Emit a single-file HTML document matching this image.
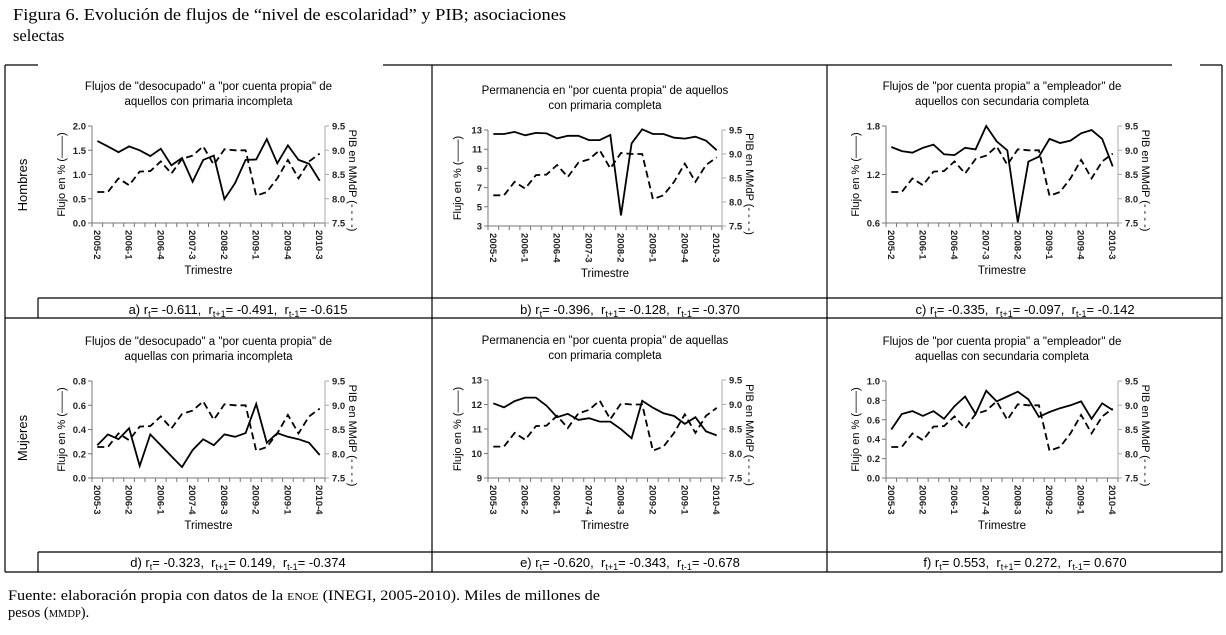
<!DOCTYPE html>
<html><head><meta charset="utf-8"><style>
html,body{margin:0;padding:0;background:#fff;width:1226px;height:635px;overflow:hidden}
svg{display:block}
text{font-family:"Liberation Sans","DejaVu Sans",sans-serif}
.serif{font-family:"Liberation Serif",serif}
</style></head><body>
<svg id="fig" width="1226" height="635" viewBox="0 0 1226 635" xmlns="http://www.w3.org/2000/svg">
<text class="serif" x="13" y="20" font-size="16.5" textLength="553" lengthAdjust="spacingAndGlyphs">Figura 6. Evolución de flujos de “nivel de escolaridad” y PIB; asociaciones</text>
<text class="serif" x="13" y="41" font-size="16.5">selectas</text>
<g stroke="#000" stroke-width="1.2" fill="none">
<path d="M5 65H38M383 65H1172M1200 65H1222"/>
<path d="M5 65V572M1222 65V572M432 65V572M827 65V572"/>
<path d="M38 298H1222M38 552H1222M5 318H1222M5 572H1222M38 298V318M38 552V572"/>
</g>
<text transform="translate(27,185) rotate(-90)" text-anchor="middle" font-size="13">Hombres</text>
<text transform="translate(27,438) rotate(-90)" text-anchor="middle" font-size="13">Mujeres</text>
<text class="serif" x="8" y="600" font-size="14.5" textLength="592" lengthAdjust="spacingAndGlyphs">Fuente: elaboración propia con datos de la <tspan font-size="10.5">ENOE</tspan> (INEGI, 2005-2010). Miles de millones de</text>
<text class="serif" x="8" y="617" font-size="14.5">pesos (<tspan font-size="10.5">MMDP</tspan>).</text>
</svg>
<script>
const pibValues=[8.14,8.14,8.42,8.28,8.56,8.57,8.77,8.52,8.82,8.89,9.08,8.70,9.02,9.00,9.00,8.06,8.14,8.42,8.80,8.42,8.77,8.93];
const flowA=[1.69,1.58,1.46,1.58,1.50,1.38,1.53,1.19,1.34,0.85,1.30,1.39,0.49,0.82,1.30,1.31,1.73,1.23,1.60,1.30,1.22,0.87];
const flowB=[12.58,12.58,12.8,12.45,12.7,12.65,12.13,12.4,12.4,11.95,11.95,12.48,4.1,11.6,13.07,12.58,12.58,12.2,12.1,12.3,11.9,10.9];
const flowC=[1.54,1.49,1.47,1.53,1.57,1.45,1.44,1.53,1.51,1.80,1.61,1.50,0.61,1.36,1.42,1.64,1.59,1.62,1.71,1.75,1.64,1.30];
const flowD=[0.27,0.36,0.32,0.41,0.10,0.36,0.27,0.18,0.09,0.23,0.32,0.27,0.36,0.34,0.37,0.61,0.29,0.37,0.34,0.32,0.29,0.19];
const flowE=[12.05,11.88,12.14,12.28,12.28,11.95,11.48,11.62,11.37,11.44,11.3,11.3,10.99,10.62,12.15,11.87,11.64,11.53,11.21,11.48,10.9,10.74];
const flowF=[0.50,0.66,0.69,0.64,0.69,0.61,0.74,0.84,0.66,0.90,0.79,0.84,0.89,0.81,0.63,0.68,0.72,0.75,0.79,0.61,0.77,0.70];
const labelsTop=["2005-2","2006-1","2006-4","2007-3","2008-2","2009-1","2009-4","2010-3"];
const labelsBottom=["2005-3","2006-2","2006-1","2007-4","2008-3","2009-2","2009-1","2010-4"];
const ticksA=[0.0,0.5,1.0,1.5,2.0];
const ticksB=[3,5,7,9,11,13];
const ticksC=[0.6,1.2,1.8];
const ticksD=[0.0,0.2,0.4,0.6,0.8];
const ticksE=[9,10,11,12,13];
const ticksF=[0.0,0.2,0.4,0.6,0.8,1.0];
const ticksPib=[7.5,8.0,8.5,9.0,9.5];

const NS="http://www.w3.org/2000/svg";
const svg=document.getElementById('fig');
function mk(tag,attrs,parent,txt){const e=document.createElementNS(NS,tag);for(const k in attrs)e.setAttribute(k,attrs[k]);if(txt!==undefined)e.textContent=txt;(parent||svg).appendChild(e);return e;}

const panels=[
 {id:'a',L:92,R:325,T:126,B:223,t1:'Flujos de "desocupado" a "por cuenta propia" de',t2:'aquellos con primaria incompleta',flow:flowA,ticks:ticksA,dec:1,labels:labelsTop,cap:['a)','-0.611','-0.491','-0.615'],cx:238,cy:314},
 {id:'b',L:488,R:722,T:130,B:226,t1:'Permanencia en "por cuenta propia" de aquellos',t2:'con primaria completa',flow:flowB,ticks:ticksB,dec:0,labels:labelsTop,cap:['b)','-0.396','-0.128','-0.370'],cx:630,cy:314},
 {id:'c',L:886,R:1118,T:126,B:223,t1:'Flujos de "por cuenta propia" a "empleador" de',t2:'aquellos con secundaria completa',flow:flowC,ticks:ticksC,dec:1,labels:labelsTop,cap:['c)','-0.335','-0.097','-0.142'],cx:1025,cy:314},
 {id:'d',L:92,R:325,T:381,B:478,t1:'Flujos de "desocupado" a "por cuenta propia" de',t2:'aquellas con primaria incompleta',flow:flowD,ticks:ticksD,dec:1,labels:labelsBottom,cap:['d)','-0.323','0.149','-0.374'],cx:238,cy:567},
 {id:'e',L:488,R:722,T:380,B:478,t1:'Permanencia en "por cuenta propia" de aquellas',t2:'con primaria completa',flow:flowE,ticks:ticksE,dec:0,labels:labelsBottom,cap:['e)','-0.620','-0.343','-0.678'],cx:630,cy:567},
 {id:'f',L:886,R:1118,T:381,B:478,t1:'Flujos de "por cuenta propia" a "empleador" de',t2:'aquellas con secundaria completa',flow:flowF,ticks:ticksF,dec:1,labels:labelsBottom,cap:['f)','0.553','0.272','0.670'],cx:1025,cy:567}
];

panels.forEach(p=>{
 const g=mk('g',{});
 
 
 const n=p.flow.length, w=(p.R-p.L)/n;
 const xs=i=>p.L+(i+0.5)*w;
 const ymin=p.ticks[0], ymax=p.ticks[p.ticks.length-1];
 const yL=v=>p.B-(v-ymin)/(ymax-ymin)*(p.B-p.T);
 const yR=v=>p.B-(v-7.5)/(9.5-7.5)*(p.B-p.T);
 const mid=(p.L+p.R)/2;
 let t=mk('text',{x:mid,y:p.T-36,'text-anchor':'middle','font-size':'11.5'},g,p.t1);
 
 
 t=mk('text',{x:mid,y:p.T-21,'text-anchor':'middle','font-size':'11.5'},g,p.t2);
 
 
 let a=mk('path',{d:`M${p.L} ${p.T}V${p.B}H${p.R}`,stroke:'#777',fill:'none','stroke-width':'1'},g);
 
 
 a=mk('path',{d:`M${p.R} ${p.T}V${p.B}`,stroke:'#aaa',fill:'none','stroke-width':'1'},g);
 
 
 let d='';
 for(let i=0;i<=n;i++){const x=p.L+i*w;d+=`M${x} ${p.B}v4`;}
 p.ticks.forEach(v=>{d+=`M${p.L-4} ${yL(v)}h4`;});
 mk('path',{d:d,stroke:'#777','stroke-width':'1',fill:'none'},g);
 let d2='';ticksPib.forEach(v=>{d2+=`M${p.R} ${yR(v)}h4`;});
 mk('path',{d:d2,stroke:'#aaa','stroke-width':'1',fill:'none'},g);
 p.ticks.forEach(v=>{
  const e=mk('text',{x:p.L-6,y:yL(v)+3.5,'text-anchor':'end','font-size':'9.5','font-weight':'bold',fill:'#222'},g,v.toFixed(p.dec));
  
  
 });
 ticksPib.forEach(v=>{
  const e=mk('text',{x:p.R+7,y:yR(v)+3.5,'font-size':'9.5','font-weight':'bold',fill:'#222'},g,v.toFixed(1));
  
  
 });
 p.labels.forEach((lb,k)=>{
  const x=xs(k*3);
  const e=mk('text',{transform:`translate(${x-3.5},${p.B+7}) rotate(90)`,'font-size':'9.5','font-weight':'bold',fill:'#222'},g,lb);
  
  
 });
 t=mk('text',{x:mid,y:p.B+51,'text-anchor':'middle','font-size':'11.5'},g,'Trimestre');
 
 
 t=mk('text',{transform:`translate(${p.L-27},${(p.T+p.B)/2}) rotate(-90)`,'text-anchor':'middle','font-size':'11'},g,'Flujo en % (——)');
 
 
 t=mk('text',{transform:`translate(${p.R+24},${(p.T+p.B)/2+6}) rotate(90)`,'text-anchor':'middle','font-size':'11'},g,'PIB  en  MMdP (- - - -)');
 
 
 let ds=pibValues.map((v,i)=>(i?'L':'M')+xs(i).toFixed(1)+' '+yR(v).toFixed(1)).join('');
 let s=mk('path',{d:ds,stroke:'#000','stroke-width':'1.8',fill:'none','stroke-dasharray':'7 4'},g);
 
 
 ds=p.flow.map((v,i)=>(i?'L':'M')+xs(i).toFixed(1)+' '+yL(v).toFixed(1)).join('');
 s=mk('path',{d:ds,stroke:'#000','stroke-width':'1.8',fill:'none'},g);
 
 
 const c=mk('text',{x:p.cx,y:p.cy,'text-anchor':'middle','font-size':'13'},svg);
 
 
 const parts=[[p.cap[0]+' r',0],['t',1],['= '+p.cap[1]+',  r',0],['t+1',1],['= '+p.cap[2]+',  r',0],['t-1',1],['= '+p.cap[3],0]];
 parts.forEach(([tx,sub],i)=>{
  let dy='0';
  if(sub)dy='3';else if(i>0&&parts[i-1][1])dy='-3';
  const sp=mk('tspan',sub?{'font-size':'9','dy':dy}:{'dy':dy},c,tx);
  if(!sub)sp.setAttribute('xml:space','preserve');
 });
 c.setAttribute('style','white-space:pre');
});
</script>
</body></html>
